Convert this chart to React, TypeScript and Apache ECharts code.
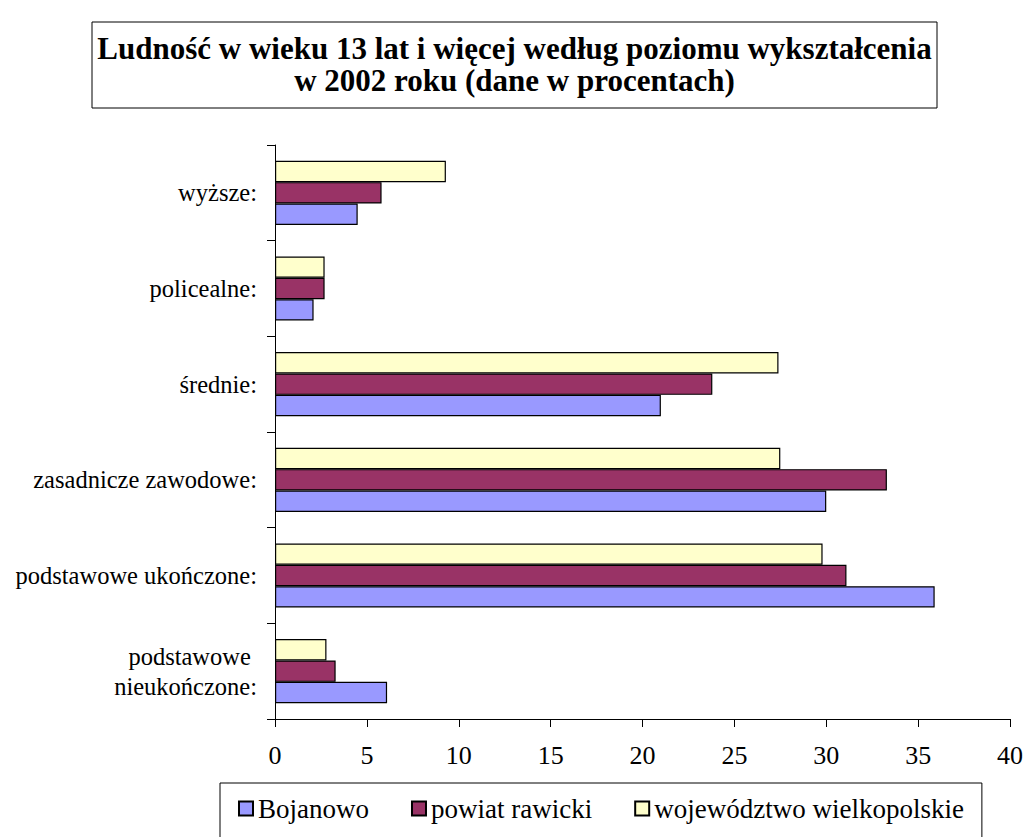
import React, { useEffect, useRef } from "react";
import * as echarts from "echarts";

const categories = [
  "podstawowe \nnieukończone:",
  "podstawowe ukończone:",
  "zasadnicze zawodowe:",
  "średnie:",
  "policealne:",
  "wyższe:",
];
const seriesNames = ["Bojanowo", "powiat rawicki", "województwo wielkopolskie"];
const bojanowo = [6.1, 35.9, 30.0, 21.0, 2.1, 4.5];
const powiatRawicki = [3.3, 31.1, 33.3, 23.8, 2.7, 5.8];
const wojewodztwo = [2.8, 29.8, 27.5, 27.4, 2.7, 9.3];
const xTicks = { min: 0, max: 40, interval: 5 };
const titleLines = [
  "Ludność w wieku 13 lat i więcej według poziomu wykształcenia",
  "w 2002 roku (dane w procentach)",
];

const FONT = "Liberation Serif";
const colors = ["#9999FF", "#993366", "#FFFFCC"];

export default function App() {
  const ref = useRef<HTMLDivElement>(null);
  useEffect(() => {
    document.body.style.margin = "0";
    if (!ref.current) return;
    const chart = echarts.init(ref.current, null, { renderer: "svg" });
    const values = [bojanowo, powiatRawicki, wojewodztwo];
    // horizontal bar series are laid out top-to-bottom in series order,
    // so they are added in reverse to put Bojanowo at the bottom of each group
    const order = [2, 1, 0];
    chart.setOption({
      animation: false,
      backgroundColor: "#fff",
      textStyle: { fontFamily: FONT, color: "#000" },
      grid: { left: 275, right: 13, top: 145, bottom: 118, containLabel: false },
      xAxis: {
        type: "value",
        min: xTicks.min,
        max: xTicks.max,
        interval: xTicks.interval,
        axisLine: { show: true, lineStyle: { color: "#000", width: 1 } },
        axisTick: { show: true, length: 8, lineStyle: { color: "#000" } },
        axisLabel: {
          margin: 23,
          fontFamily: FONT,
          fontSize: 26,
          color: "#000",
        },
        splitLine: { show: false },
      },
      yAxis: {
        type: "category",
        data: categories,
        axisLine: { show: true, lineStyle: { color: "#000", width: 1 } },
        axisTick: { show: true, length: 8, lineStyle: { color: "#000" } },
        axisLabel: {
          margin: 18,
          fontFamily: FONT,
          fontSize: 24.5,
          lineHeight: 30,
          color: "#000",
          align: "right",
        },
      },
      legend: {
        data: seriesNames,
        left: 220,
        top: 783,
        orient: "horizontal",
        borderColor: "#000",
        borderWidth: 1,
        padding: [12, 18, 40, 18],
        itemWidth: 14,
        itemHeight: 14,
        itemGap: 42,
        icon: "rect",
        textStyle: { fontFamily: FONT, fontSize: 27, color: "#000" },
      },
      graphic: [
        {
          type: "rect",
          shape: { x: 92, y: 22, width: 845, height: 86 },
          style: { fill: "#fff", stroke: "#000", lineWidth: 1 },
        },
        {
          type: "text",
          x: 514.5,
          y: 64,
          style: {
            text: titleLines.join("\n"),
            fontFamily: FONT,
            fontWeight: "bold",
            fontSize: 31,
            textAlign: "center",
            textVerticalAlign: "middle",
            lineHeight: 32,
            fill: "#000",
          },
        },
      ],
      series: order.map((i) => ({
        name: seriesNames[i],
        type: "bar",
        data: values[i],
        barGap: "0%",
        barCategoryGap: "33%",
        itemStyle: { color: colors[i], borderColor: "#000", borderWidth: 1.2 },
      })),
    });
    return () => chart.dispose();
  }, []);
  return <div ref={ref} style={{ width: 1026, height: 837 }} />;
}
